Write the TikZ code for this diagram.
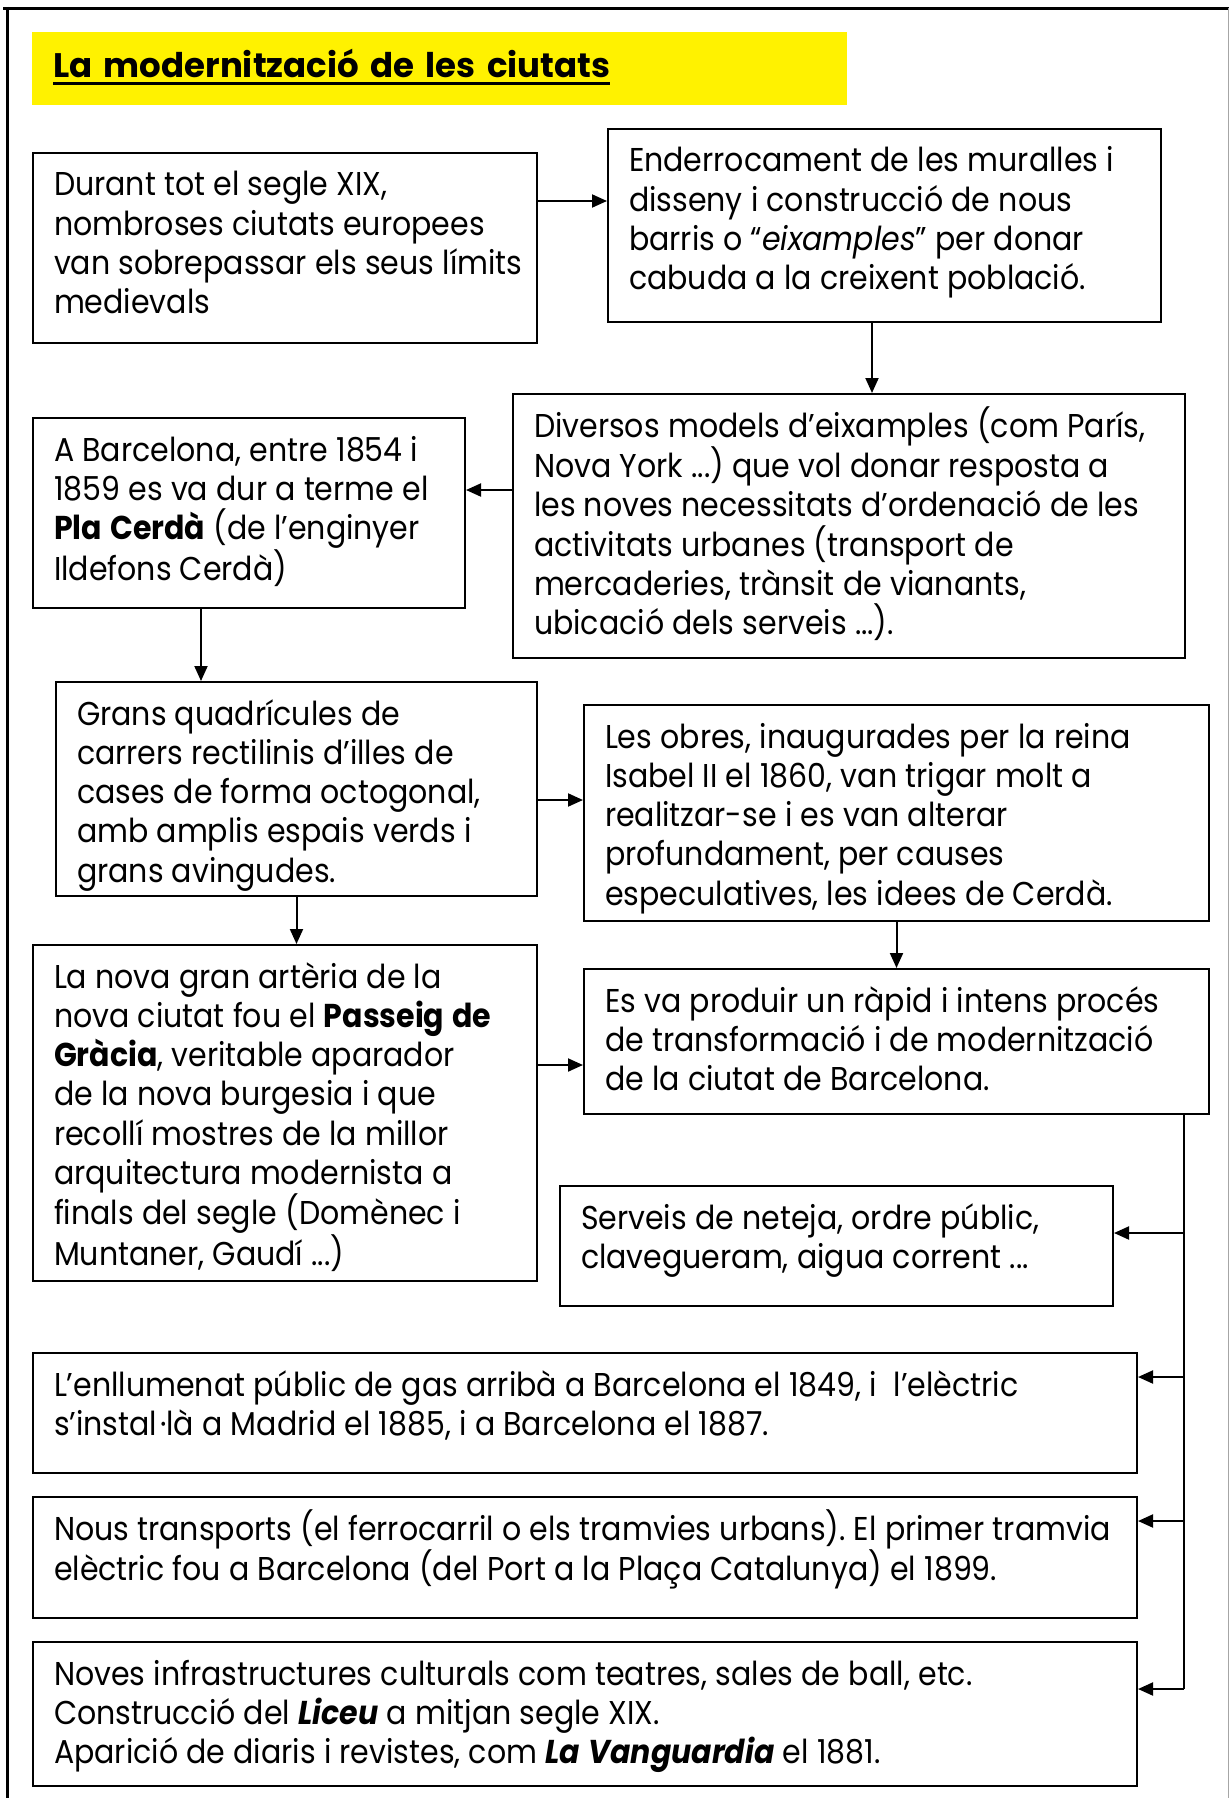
\documentclass[tikz,border=0pt]{standalone}
\usepackage{fontspec}
\setmainfont{Poppins}[FakeStretch=0.91]
\newfontfamily\titlefont{Poppins}
\usetikzlibrary{arrows.meta}
\newcommand{\titleul}[1]{\setbox0\hbox{#1}\rlap{\rule[-8pt]{\wd0}{3pt}}\box0}
\tikzset{
  frameln/.style = {line width=3pt},
  box/.style 2 args = {draw, line width=2pt, anchor=north west, align=left,
    inner xsep=21pt, inner ysep=0pt, text width=#1pt-42pt,
    text height=43pt, text depth=#2pt-43pt,
    execute at begin node={\hyphenpenalty=10000\rightskip=-40pt plus 1fil
      \frenchspacing\spaceskip=0.25em plus 0.1em}},
  arr/.style = {-{Triangle[length=15pt,width=13pt]}, line width=2pt},
  trunkln/.style = {line width=2pt}
}

\begin{document}
\begin{tikzpicture}[x=1pt,y=-1pt,every node/.style={font=\fontsize{33}{39.3}\selectfont}]
  \useasboundingbox (0,0) rectangle (1231,1798);
  % page frame: heavy top and left, light right
  \draw[frameln,line width=3.5pt] (3,8.5) -- (1229,8.5);
  \draw[frameln] (7.5,7) -- (7.5,1798);
  \draw[gray!70,line width=1.5pt] (1228.5,8.5) -- (1228.5,1798);
  \node[fill=yellow,anchor=north west,align=left,inner xsep=21pt,inner ysep=0pt,
        text width=773pt,text height=45pt,text depth=28pt,
        font=\titlefont\fontsize{34}{40}\selectfont\bfseries] (title) at (32,32)
       {\titleul{La modernització de les ciutats}};
  % boxes, top to bottom
  \node[box={504}{190}] (durant) at (32,152)
       {Durant tot el segle XIX,\\ nombroses ciutats europees\\ van sobrepassar els seus límits\\ medievals};
  \node[box={553}{193}] (muralles) at (607,128)
       {Enderrocament de les muralles i\\ disseny i construcció de nous\\ barris o “\textit{eixamples}” per donar\\ cabuda a la creixent població.};
  \node[box={672}{264}] (models) at (512,393)
       {Diversos models d’eixamples (com París,\\ Nova York ...) que vol donar resposta a\\ les noves necessitats d’ordenació de les\\ activitats urbanes (transport de\\ mercaderies, trànsit de vianants,\\ ubicació dels serveis ...).};
  \node[box={432}{190}] (cerda) at (32,417)
       {A Barcelona, entre 1854 i\\ 1859 es va dur a terme el\\ \textbf{Pla Cerdà} (de l’enginyer\\ Ildefons Cerdà)};
  \node[box={481}{214}] (quadr) at (55,681)
       {Grans quadrícules de\\ carrers rectilinis d’illes de\\ cases de forma octogonal,\\ amb amplis espais verds i\\ grans avingudes.};
  \node[box={625}{216}] (obres) at (583,704)
       {Les obres, inaugurades per la reina\\ Isabel II el 1860, van trigar molt a\\ realitzar-se i es van alterar\\ profundament, per causes\\ especulatives, les idees de Cerdà.};
  \node[box={504}{336}] (passeig) at (32,944)
       {La nova gran artèria de la\\ nova ciutat fou el \textbf{Passeig de}\\ \textbf{Gràcia}, veritable aparador\\ de la nova burgesia i que\\ recollí mostres de la millor\\ arquitectura modernista a\\ finals del segle (Domènec i\\ Muntaner, Gaudí ...)};
  \node[box={625}{145}] (proces) at (583,968)
       {Es va produir un ràpid i intens procés\\ de transformació i de modernització\\ de la ciutat de Barcelona.};
  \node[box={553}{120}] (serveis) at (559,1185)
       {Serveis de neteja, ordre públic,\\ clavegueram, aigua corrent ...};
  \node[box={1104}{120}] (llum) at (32,1352)
       {L’enllumenat públic de gas arribà a Barcelona el 1849, i\ \ l’elèctric\\ s’instal\kern3pt·là a Madrid el 1885, i a Barcelona el 1887.};
  \node[box={1104}{121}] (transp) at (32,1496)
       {Nous transports (el ferrocarril o els tramvies urbans). El primer tramvia\\ elèctric fou a Barcelona (del Port a la Plaça Catalunya) el 1899.};
  \node[box={1104}{144}] (cultura) at (32,1641)
       {Noves infrastructures culturals com teatres, sales de ball, etc.\\ Construcció del \textbf{\textit{Liceu}} a mitjan segle XIX.\\ Aparició de diaris i revistes, com \textbf{\textit{La Vanguardia}} el 1881.};
  % connectors
  \draw[arr] (durant.east |- 0,201) -- (muralles.west |- 0,201);
  \draw[arr] (muralles.south -| 872,0) -- (models.north -| 872,0);
  \draw[arr] (models.west |- 0,490) -- (cerda.east |- 0,490);
  \draw[arr] (cerda.south -| 201,0) -- (quadr.north -| 201,0);
  \draw[arr] (quadr.east |- 0,800) -- (obres.west |- 0,800);
  \draw[arr] (quadr.south) -- (quadr.south |- passeig.north);
  \draw[arr] (obres.south) -- (obres.south |- proces.north);
  \draw[arr] (passeig.east |- 0,1065) -- (proces.west |- 0,1065);
  % right-hand trunk feeding the lower boxes
  \coordinate (trunk) at (1184,1689);
  \draw[trunkln] (proces.south -| trunk) -- (trunk);
  \foreach \n/\y in {serveis/1233, llum/1377, transp/1521, cultura/1689}
    \draw[arr] (trunk |- 0,\y) -- (\n.east |- 0,\y);
\end{tikzpicture}
\end{document}
